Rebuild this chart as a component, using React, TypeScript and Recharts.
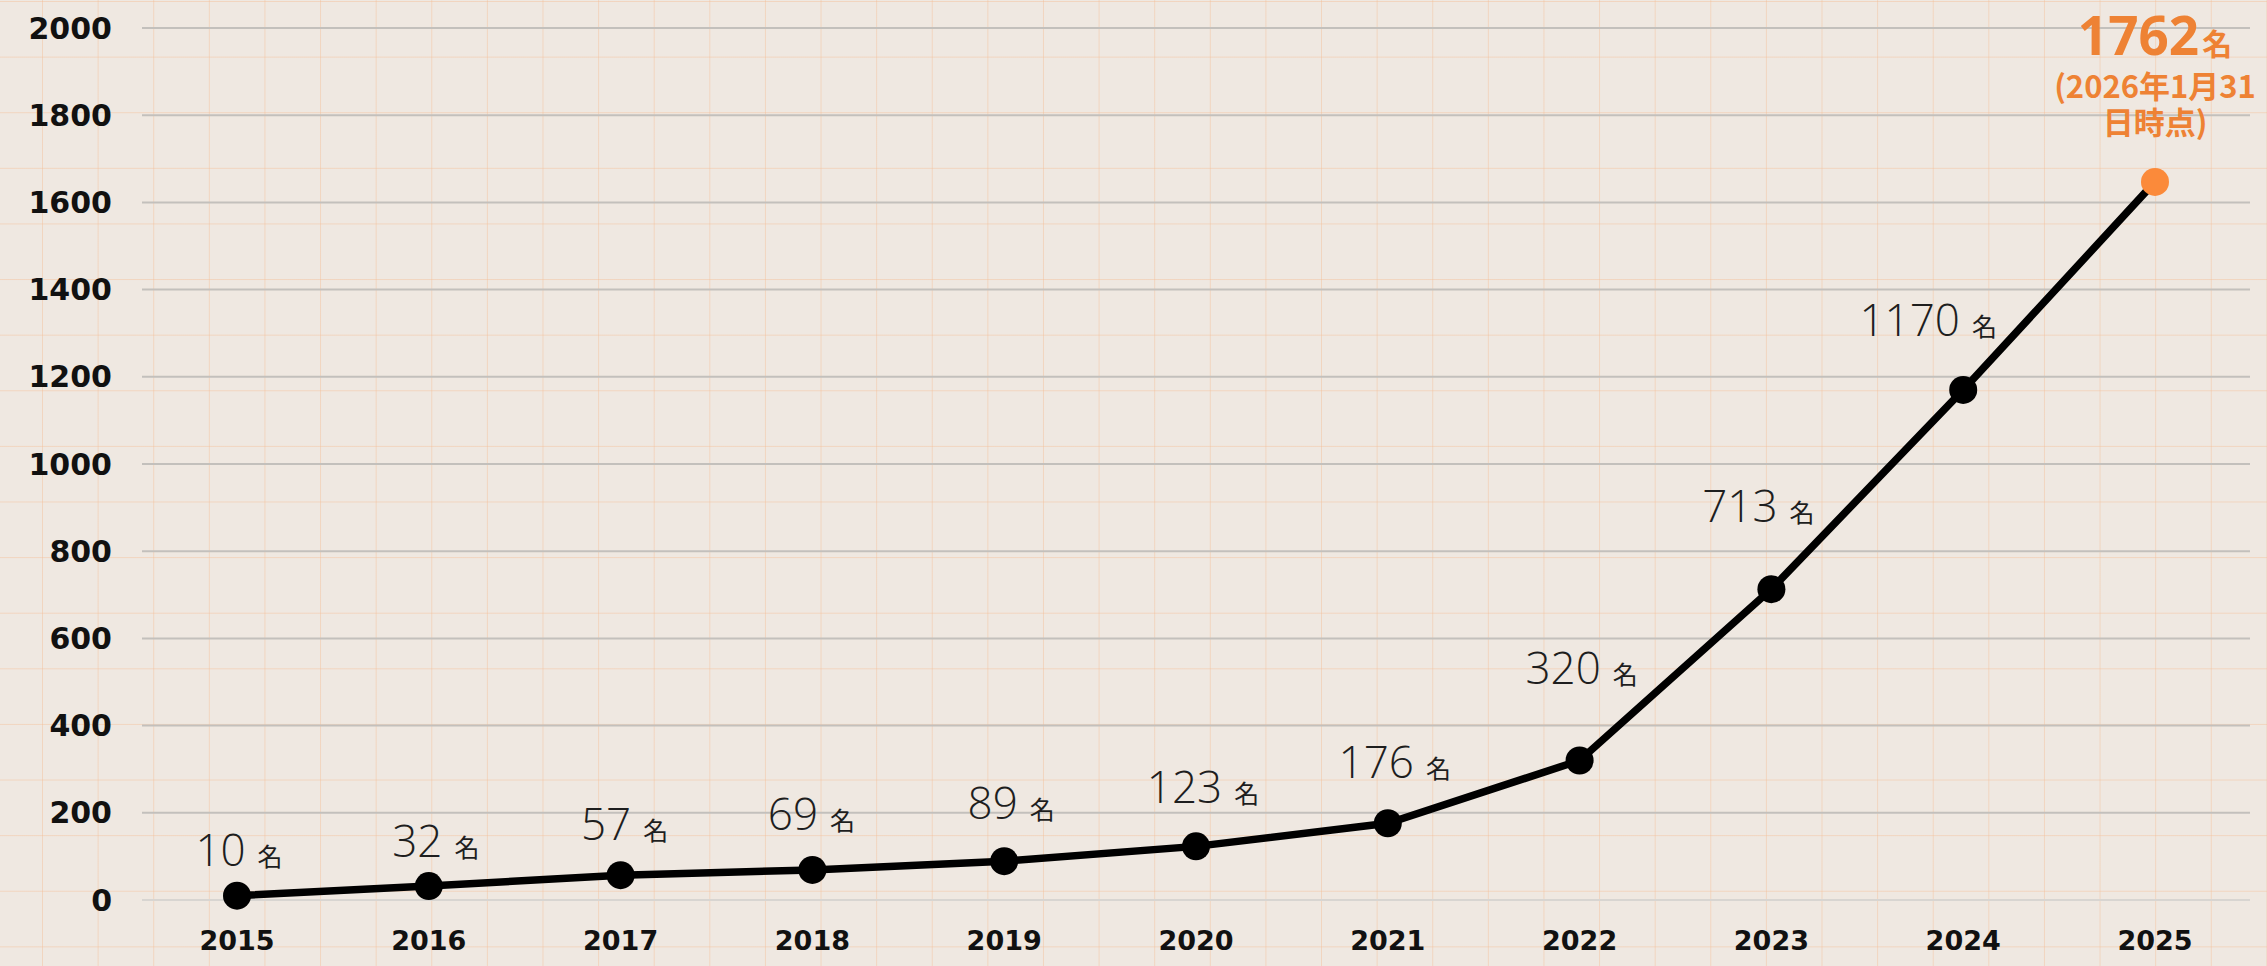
import { LineChart, Line, XAxis, YAxis, CartesianGrid } from "recharts";

// 年ごとの会員数
const years = ["2015", "2016", "2017", "2018", "2019", "2020", "2021", "2022", "2023", "2024", "2025"];
const members = [10, 32, 57, 69, 89, 123, 176, 320, 713, 1170, 1647];
const latestTotal = 1762;
const latestNote = ["(2026年1月31", "日時点)"];
const yTicks = [0, 200, 400, 600, 800, 1000, 1200, 1400, 1600, 1800, 2000];

const rows = years.map((year, i) => ({ year, value: members[i] }));

const ORANGE_DOT = "#FB8A3A";
const ORANGE_TEXT = "#EE8234";
const LAST = members.length - 1;

// ラベルの位置ずらし [dx, 点からの高さ]
const LABEL_SHIFT = [
  [2, 30], [7, 29], [4, 35], [-1, 40], [7, 42], [7, 43],
  [7, 45], [2, 76], [-13, 67], [-35, 54],
];

const renderDot = (props: any) => {
  const { cx, cy, index } = props;
  return (
    <circle
      key={`dot-${index}`}
      cx={cx}
      cy={cy}
      r={14}
      fill={index === LAST ? ORANGE_DOT : "#000"}
    />
  );
};

const renderLabel = (props: any) => {
  const { x, y, index, value } = props;
  if (index === LAST) {
    return (
      <g key={`label-${index}`} fill={ORANGE_TEXT} fontWeight={700} textAnchor="middle">
        <text x={x} y={y - 127}>
          <tspan fontSize={53} fontFamily="'Noto Sans', sans-serif">{latestTotal}</tspan>
          <tspan fontSize={30} dx={3} fontFamily="'Noto Sans CJK JP', sans-serif">名</tspan>
        </text>
        <text x={x} y={y - 84} fontSize={31} fontFamily="'Noto Sans CJK JP', sans-serif">
          {latestNote[0]}
        </text>
        <text x={x} y={y - 48} fontSize={31} fontFamily="'Noto Sans CJK JP', sans-serif">
          {latestNote[1]}
        </text>
      </g>
    );
  }
  const [dx, dy] = LABEL_SHIFT[index] ?? [0, 35];
  return (
    <text key={`label-${index}`} x={x + dx} y={y - dy} textAnchor="middle" fill="#1E1E1E">
      <tspan fontSize={44} fontWeight={300} fontFamily="'Open Sans', Roboto, sans-serif">
        {value}
      </tspan>
      <tspan dx={12} fontSize={25} fontFamily="'Noto Sans CJK JP', sans-serif">名</tspan>
    </text>
  );
};

export default function App() {
  return (
    <div
      style={{
        position: "absolute",
        left: 0,
        top: 0,
        width: 2267,
        height: 966,
        backgroundColor: "#EFE8E1",
        backgroundImage:
          "linear-gradient(to right, rgba(244,190,150,0.45) 1.2px, transparent 1.2px), linear-gradient(to bottom, rgba(244,190,150,0.45) 1.2px, transparent 1.2px)",
        backgroundSize: "55.62px 55.62px",
        backgroundPosition: "42px 1px",
      }}
    >
      <LineChart
        width={2267}
        height={966}
        data={rows}
        margin={{ top: 28, right: 17, bottom: 6, left: 0 }}
      >
        {/* 横線のみ */}
        <CartesianGrid
          vertical={false}
          stroke="#C3C0BC"
          strokeWidth={2}
          horizontalValues={yTicks.slice(1)}
        />
        <XAxis
          dataKey="year"
          height={60}
          padding={{ left: 95, right: 95 }}
          axisLine={{ stroke: "#D8D5D1", strokeWidth: 2 }}
          tickLine={false}
          tickSize={0}
          tickMargin={31}
          tick={{ fill: "#111", fontSize: 27, fontWeight: 700, fontFamily: "'DejaVu Sans', sans-serif" }}
        />
        <YAxis
          width={142}
          domain={[0, 2000]}
          ticks={yTicks}
          axisLine={false}
          tickLine={false}
          tickSize={0}
          tickMargin={30}
          tick={{ fill: "#111", fontSize: 30, fontWeight: 700, fontFamily: "'DejaVu Sans', sans-serif" }}
        />
        <Line
          dataKey="value"
          stroke="#000"
          strokeWidth={7.5}
          dot={renderDot}
          activeDot={false}
          label={renderLabel}
          isAnimationActive={false}
        />
      </LineChart>
    </div>
  );
}
